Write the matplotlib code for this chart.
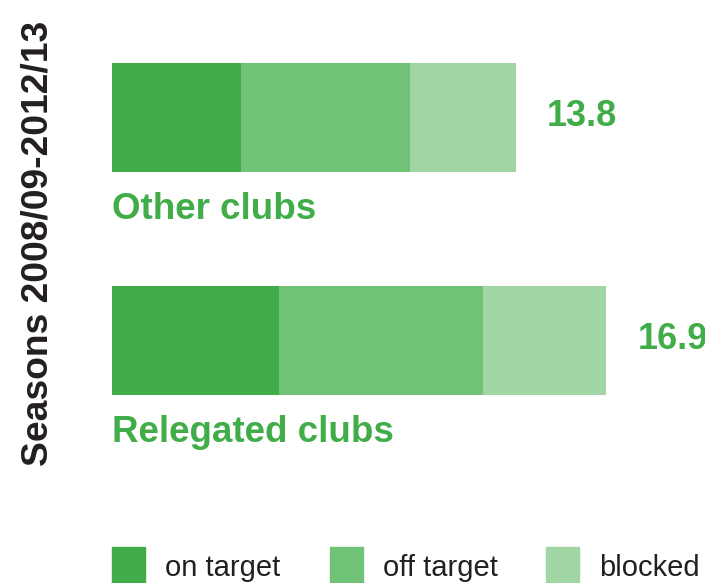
import matplotlib.pyplot as plt
from matplotlib.patches import Rectangle

plt.rcParams['font.family'] = ['Liberation Sans', 'DejaVu Sans']

groups = ['Relegated clubs', 'Other clubs']
on_target = [5.7, 4.4]
off_target = [7.0, 5.8]
blocked = [4.2, 3.6]
totals = [16.9, 13.8]
series_names = ['on target', 'off target', 'blocked']
colors = ['#41ad49', '#70c277', '#a1d5a3']
text_green = '#41ad49'
dark = '#231f20'

W, H = 705, 583
fig = plt.figure(figsize=(W / 100, H / 100), dpi=100)

# axes placed so that data x=0 sits at 112 px, 29.25 px per unit
left_px = 112
px_per_unit = 29.25
ax = fig.add_axes([left_px / W, 0, (W - left_px) / W, 1])
ax.set_xlim(0, (W - left_px) / px_per_unit)
# y=1 centre at 117.5 px from top, y=0 centre at 340.5 px
gap = 223.0
ax.set_ylim(-(H - 340.5) / gap, 1 + 117.5 / gap)
ax.axis('off')

ypos = [0, 1]
bh = 109 / gap
lefts = [0, 0]
for vals, c in zip([on_target, off_target, blocked], colors):
    ax.barh(ypos, vals, left=lefts, height=bh, color=c, edgecolor='none')
    lefts = [a + b for a, b in zip(lefts, vals)]

for y, t, g in zip(ypos, totals, groups):
    ax.text(t + 1.07, y + 0.005, f'{t:.1f}', color=text_green, fontsize=26,
            fontweight='bold', va='center', ha='left')
    ax.text(0, y - 0.412, g, color=text_green, fontsize=26.5,
            fontweight='bold', va='center', ha='left')

fig.text(38 / W, 1 - 243 / H, 'Seasons 2008/09-2012/13', rotation=90,
         color=dark, fontsize=26.8, fontweight='bold', va='center', ha='center')

# legend
leg_x = [112, 330, 546]
for x, name, c in zip(leg_x, series_names, colors):
    fig.patches.append(Rectangle((x / W, 1 - 583 / H), 33 / W, 36 / H,
                                 transform=fig.transFigure, color=c))
    fig.text((x + 53) / W, 1 - 568 / H, name, color=dark, fontsize=21,
             va='center', ha='left')

fig.savefig('out.png', dpi=100)
